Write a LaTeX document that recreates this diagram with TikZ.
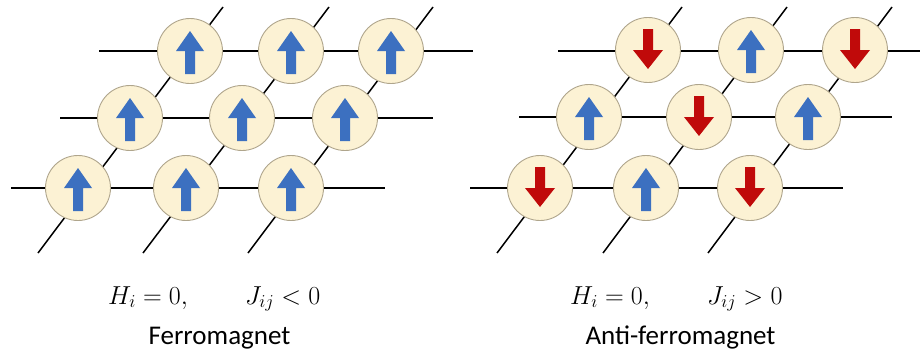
\RequirePackage{fix-cm}
\documentclass[tikz,border=0pt]{standalone}
\usepackage{fontspec}
\setmainfont{Carlito}
\definecolor{sitefill}{RGB}{252,242,212}
\definecolor{sitedraw}{RGB}{175,165,140}
\definecolor{spinblue}{RGB}{60,112,192}
\definecolor{spinred}{RGB}{192,10,10}
\tikzset{
  site/.style={circle, draw=sitedraw, line width=0.9pt, fill=sitefill, minimum size=65pt, inner sep=0pt},
  bond/.style={black, line width=1.5pt},
  mathlbl/.style={anchor=base west, inner sep=0pt, font=\fontsize{26}{30}\selectfont},
  namelbl/.style={anchor=base, inner sep=0pt, font=\fontsize{27}{32}\selectfont},
  uparr/.pic={\fill[spinblue] (-5,23) -- (-5,0) -- (-14,0) -- (0,-20) -- (14,0) -- (5,0) -- (5,23) -- cycle;},
  downarr/.pic={\fill[spinred] (-5,-21) -- (-5,0) -- (-15,0) -- (0,19) -- (15,0) -- (5,0) -- (5,-21) -- cycle;}
}
\begin{document}
\begin{tikzpicture}[x=1pt,y=-1pt]
\useasboundingbox (0,0) rectangle (920,356);
% ---------- left lattice: bond end points
\coordinate (LhT1) at (99,51);  \coordinate (LhT2) at (473,51);
\coordinate (LhM1) at (60,118); \coordinate (LhM2) at (433,118);
\coordinate (LhB1) at (11,188); \coordinate (LhB2) at (385,188);
\coordinate (LdA1) at (38,253); \coordinate (LdA2) at (223,7);
\coordinate (LdB1) at (143,253);\coordinate (LdB2) at (329,7);
\coordinate (LdC1) at (248,253);\coordinate (LdC2) at (433,7);
\draw[bond] (LhT1) -- (LhT2);
\draw[bond] (LhM1) -- (LhM2);
\draw[bond] (LhB1) -- (LhB2);
\draw[bond] (LdA1) -- (LdA2);
\draw[bond] (LdB1) -- (LdB2);
\draw[bond] (LdC1) -- (LdC2);
% ---------- right lattice: bond end points
\coordinate (RhT1) at (558,51); \coordinate (RhT2) at (922,51);
\coordinate (RhM1) at (519,117);\coordinate (RhM2) at (892,117);
\coordinate (RhB1) at (470,188);\coordinate (RhB2) at (843,188);
\coordinate (RdA1) at (497,253);\coordinate (RdA2) at (682,7);
\coordinate (RdB1) at (603,253);\coordinate (RdB2) at (787,7);
\coordinate (RdC1) at (708,253);\coordinate (RdC2) at (892,7);
\draw[bond] (RhT1) -- (RhT2);
\draw[bond] (RhM1) -- (RhM2);
\draw[bond] (RhB1) -- (RhB2);
\draw[bond] (RdA1) -- (RdA2);
\draw[bond] (RdB1) -- (RdB2);
\draw[bond] (RdC1) -- (RdC2);
% ---------- left sites
\node[site] (l11) at (190,51) {};
\node[site] (l12) at (291,51) {};
\node[site] (l13) at (391,51) {};
\node[site] (l21) at (130,118) {};
\node[site] (l22) at (242,118) {};
\node[site] (l23) at (345,118) {};
\node[site] (l31) at (78,188) {};
\node[site] (l32) at (186,188) {};
\node[site] (l33) at (291,188) {};
\foreach \n in {l11,l12,l13,l21,l22,l23,l31,l32,l33} {\pic at (\n) {uparr};}
% ---------- right sites
\node[site] (r11) at (648,50) {};
\node[site] (r12) at (751,50) {};
\node[site] (r13) at (855,50) {};
\node[site] (r21) at (589,117) {};
\node[site] (r22) at (699,117) {};
\node[site] (r23) at (808,117) {};
\node[site] (r31) at (540,188) {};
\node[site] (r32) at (646,188) {};
\node[site] (r33) at (750,188) {};
\foreach \n in {r11,r13,r22,r31,r33} {\pic at (\n) {downarr};}
\foreach \n in {r12,r21,r23,r32} {\pic at (\n) {uparr};}
% ---------- labels
\node[mathlbl] (lH) at (108,304) {$H_i = 0,$};
\node[mathlbl] (lJ) at (245,304) {$J_{ij} < 0$};
\node[namelbl] (lname) at (219.5,344) {Ferromagnet};
\node[mathlbl] (rH) at (570,304) {$H_i = 0,$};
\node[mathlbl] (rJ) at (707,304) {$J_{ij} > 0$};
\node[namelbl] (rname) at (680.5,344) {Anti-ferromagnet};
\end{tikzpicture}
\end{document}
